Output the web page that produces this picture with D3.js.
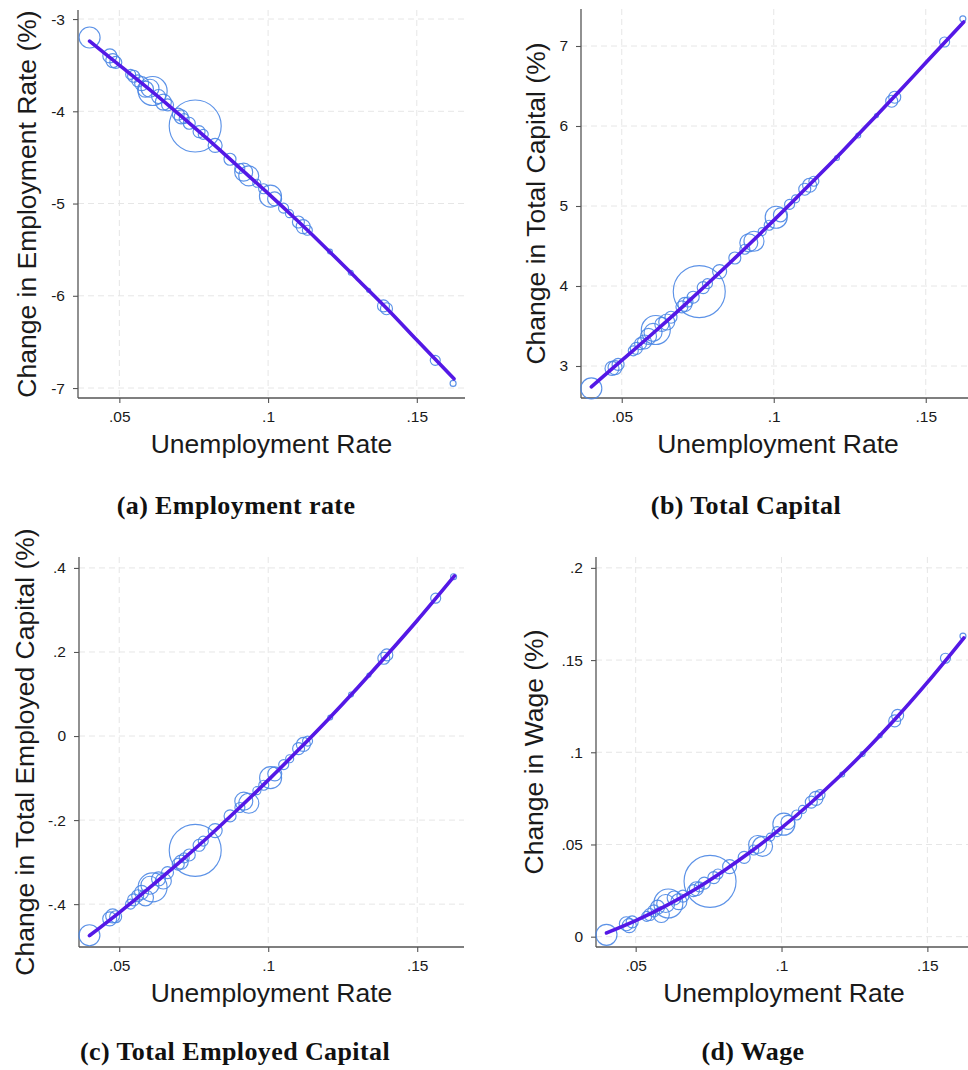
<!DOCTYPE html>
<html>
<head>
<meta charset="utf-8">
<script src="https://cdn.jsdelivr.net/npm/d3@7"></script>
<style>
  body { margin: 0; background: #fff; }
  svg { display: block; }
  .tick text { font-family: "Liberation Sans", Arial, sans-serif; }
</style>
</head>
<body>
<svg id="fig" width="968" height="1070"></svg>
<script>
// Regional observations: unemployment rate and population weight
const unemp = [0.0400, 0.0468, 0.0478, 0.0488, 0.0538, 0.0548, 0.0562, 0.0575, 0.0588, 0.0603,
               0.0612, 0.0632, 0.0648, 0.0662, 0.0698, 0.0708, 0.0718, 0.0735, 0.0755, 0.0768,
               0.0782, 0.0822, 0.0872, 0.0905, 0.0918, 0.0935, 0.0962, 0.0985, 0.1008, 0.1022,
               0.1052, 0.1072, 0.1102, 0.1118, 0.1132, 0.1208, 0.1278, 0.1338, 0.1388, 0.1398,
               0.1562, 0.1622];
const weight = [110, 49, 49, 36, 25, 36, 36, 49, 64, 81,
                210, 49, 64, 36, 36, 49, 25, 36, 676, 36,
                25, 49, 36, 25, 81, 100, 16, 25, 121, 49,
                25, 16, 36, 49, 25, 6, 6, 4, 36, 36,
                25, 9];

// Change in outcomes (%) by region
const empRate = [-3.20, -3.40, -3.45, -3.47, -3.60, -3.62, -3.67, -3.70, -3.76, -3.75,
                 -3.78, -3.84, -3.90, -3.93, -4.03, -4.06, -4.08, -4.13, -4.16, -4.22,
                 -4.25, -4.37, -4.52, -4.62, -4.66, -4.70, -4.78, -4.84, -4.92, -4.95,
                 -5.05, -5.11, -5.20, -5.25, -5.29, -5.52, -5.75, -5.94, -6.11, -6.14,
                 -6.70, -6.95];
const totalCapital = [2.72, 2.97, 2.98, 3.02, 3.19, 3.22, 3.28, 3.30, 3.37, 3.42,
                      3.45, 3.52, 3.55, 3.61, 3.74, 3.77, 3.80, 3.86, 3.93, 3.98,
                      4.03, 4.18, 4.35, 4.46, 4.54, 4.56, 4.68, 4.76, 4.86, 4.89,
                      5.02, 5.09, 5.21, 5.26, 5.31, 5.60, 5.88, 6.13, 6.31, 6.36,
                      7.05, 7.34];
const employedCapital = [-0.474, -0.435, -0.428, -0.430, -0.400, -0.390, -0.380, -0.372, -0.385, -0.355,
                         -0.360, -0.340, -0.345, -0.325, -0.305, -0.300, -0.290, -0.283, -0.272, -0.260,
                         -0.250, -0.225, -0.190, -0.170, -0.155, -0.160, -0.130, -0.117, -0.099, -0.090,
                         -0.068, -0.054, -0.030, -0.020, -0.012, 0.044, 0.099, 0.145, 0.185, 0.193,
                         0.328, 0.379];
const wage = [0.001, 0.007, 0.006, 0.008, 0.011, 0.012, 0.014, 0.016, 0.012, 0.018,
              0.018, 0.021, 0.019, 0.022, 0.025, 0.026, 0.027, 0.029, 0.030, 0.032,
              0.034, 0.038, 0.043, 0.047, 0.050, 0.049, 0.054, 0.057, 0.061, 0.062,
              0.066, 0.069, 0.073, 0.075, 0.077, 0.088, 0.099, 0.109, 0.117, 0.120,
              0.151, 0.163];

// Fitted curves
const fitX = [0.040, 0.050, 0.060, 0.070, 0.080, 0.090, 0.100, 0.110, 0.120, 0.130, 0.140, 0.150, 0.1625];
const fitEmpRate = [-3.24, -3.50, -3.76, -4.03, -4.31, -4.60, -4.89, -5.19, -5.50, -5.82, -6.14, -6.48, -6.90];
const fitTotalCapital = [2.74, 3.07, 3.40, 3.74, 4.09, 4.45, 4.82, 5.20, 5.58, 5.98, 6.38, 6.79, 7.30];
const fitEmployedCapital = [-0.475, -0.420, -0.362, -0.302, -0.239, -0.173, -0.105, -0.034, 0.039, 0.115, 0.194, 0.275, 0.381];
const fitWage = [0.002, 0.0087, 0.0164, 0.0253, 0.0355, 0.0467, 0.059, 0.0725, 0.0871, 0.1029, 0.1198, 0.1379, 0.1620];

// Tick values
const xTicks = [0.05, 0.1, 0.15];
const yTicksEmpRate = [-7, -6, -5, -4, -3];
const yTicksTotalCapital = [3, 4, 5, 6, 7];
const yTicksEmployedCapital = [-0.4, -0.2, 0, 0.2, 0.4];
const yTicksWage = [0, 0.05, 0.1, 0.15, 0.2];

const xLabel = "Unemployment Rate";

const panels = [
  { caption: "(a) Employment rate", ylab: "Change in Employment Rate (%)",
    values: empRate, fit: fitEmpRate, yTicks: yTicksEmpRate,
    box: { left: 78, right: 465, top: 10, bottom: 398 },
    xDom: [0.0361, 0.1662], yDom: [-7.108, -2.902],
    ylabOff: 51, capX: 236, capY: 514 },
  { caption: "(b) Total Capital", ylab: "Change in Total Capital (%)",
    values: totalCapital, fit: fitTotalCapital, yTicks: yTicksTotalCapital,
    box: { left: 581, right: 975, top: 9, bottom: 398 },
    xDom: [0.0366, 0.1662], yDom: [2.6, 7.4625],
    ylabOff: 45, capX: 746, capY: 514 },
  { caption: "(c) Total Employed Capital", ylab: "Change in Total Employed Capital (%)",
    values: employedCapital, fit: fitEmployedCapital, yTicks: yTicksEmployedCapital,
    box: { left: 79, right: 464, top: 557, bottom: 947 },
    xDom: [0.0365, 0.1657], yDom: [-0.502, 0.426],
    ylabOff: 54, capX: 235, capY: 1060 },
  { caption: "(d) Wage", ylab: "Change in Wage (%)",
    values: wage, fit: fitWage, yTicks: yTicksWage,
    box: { left: 596, right: 972, top: 557, bottom: 947 },
    xDom: [0.0364, 0.1653], yDom: [-0.0056, 0.2059],
    ylabOff: 62, capX: 753, capY: 1060 }
];

// Stata-style numbers: drop the leading zero (".05", "-.2")
const stataFmt = v => String(+v.toFixed(4)).replace(/^(-?)0\./, "$1.");

const svg = d3.select("#fig");
const rScale = d3.scaleSqrt().domain([0, d3.max(weight)]).range([0, 26]);
const SANS = '"Liberation Sans", Arial, Helvetica, sans-serif';

panels.forEach(p => {
  const b = p.box;
  const x = d3.scaleLinear().domain(p.xDom).range([b.left, b.right]);
  const y = d3.scaleLinear().domain(p.yDom).range([b.bottom, b.top]);
  const g = svg.append("g");

  // grid
  g.append("g").selectAll("line").data(p.yTicks).join("line")
    .attr("x1", b.left).attr("x2", b.right)
    .attr("y1", d => y(d)).attr("y2", d => y(d))
    .attr("stroke", "#e6e6e6").attr("stroke-width", 1).attr("stroke-dasharray", "6,4");
  g.append("g").selectAll("line").data(xTicks).join("line")
    .attr("y1", b.top).attr("y2", b.bottom)
    .attr("x1", d => x(d)).attr("x2", d => x(d))
    .attr("stroke", "#e6e6e6").attr("stroke-width", 1).attr("stroke-dasharray", "6,4");

  // axes
  const xa = g.append("g").attr("transform", `translate(0,${b.bottom})`)
    .call(d3.axisBottom(x).tickValues(xTicks).tickFormat(stataFmt).tickSize(5).tickPadding(8).tickSizeOuter(0));
  const ya = g.append("g").attr("transform", `translate(${b.left},0)`)
    .call(d3.axisLeft(y).tickValues(p.yTicks).tickFormat(stataFmt).tickSize(5).tickPadding(8).tickSizeOuter(0));
  [xa, ya].forEach(a => {
    a.select(".domain").attr("stroke", "#555").attr("stroke-width", 1.3);
    a.selectAll(".tick line").attr("stroke", "#555").attr("stroke-width", 1.1);
    a.selectAll(".tick text").attr("font-size", 15.5).attr("fill", "#1a1a1a");
  });
  // extend axis lines across the full frame
  xa.select(".domain").attr("d", `M${b.left},0H${b.right}`);
  ya.select(".domain").attr("d", `M0,${b.bottom}V${b.top}`);

  // bubbles
  const pts = unemp.map((u, i) => ({ u, v: p.values[i], w: weight[i] }));
  g.append("g").selectAll("circle").data(pts).join("circle")
    .attr("cx", d => x(d.u)).attr("cy", d => y(d.v)).attr("r", d => rScale(d.w))
    .attr("fill", "none").attr("stroke", "#4a86e4").attr("stroke-opacity", 0.9)
    .attr("stroke-width", 1.15);

  // fitted curve
  const line = d3.line().x(d => x(d[0])).y(d => y(d[1])).curve(d3.curveMonotoneX);
  g.append("path").datum(fitX.map((fx, i) => [fx, p.fit[i]]))
    .attr("d", line).attr("fill", "none")
    .attr("stroke", "#5418e6").attr("stroke-width", 3.6).attr("stroke-linecap", "round");

  // axis titles
  g.append("text").attr("x", (b.left + b.right) / 2).attr("y", b.bottom + 55)
    .attr("text-anchor", "middle").attr("font-family", SANS).attr("font-size", 26.5)
    .attr("fill", "#1a1a1a").text(xLabel);
  const cy = (b.top + b.bottom) / 2;
  g.append("text")
    .attr("transform", `translate(${b.left - p.ylabOff},${cy}) rotate(-90)`)
    .attr("text-anchor", "middle").attr("dy", "0.35em")
    .attr("font-family", SANS).attr("font-size", 26.5).attr("fill", "#1a1a1a")
    .text(p.ylab);

  // caption
  svg.append("text").attr("x", p.capX).attr("y", p.capY).attr("text-anchor", "middle")
    .attr("font-family", '"Liberation Serif", "DejaVu Serif", serif').attr("font-weight", "bold")
    .attr("font-size", 26).attr("letter-spacing", 0.4).attr("fill", "#111").text(p.caption);
});
</script>
</body>
</html>
